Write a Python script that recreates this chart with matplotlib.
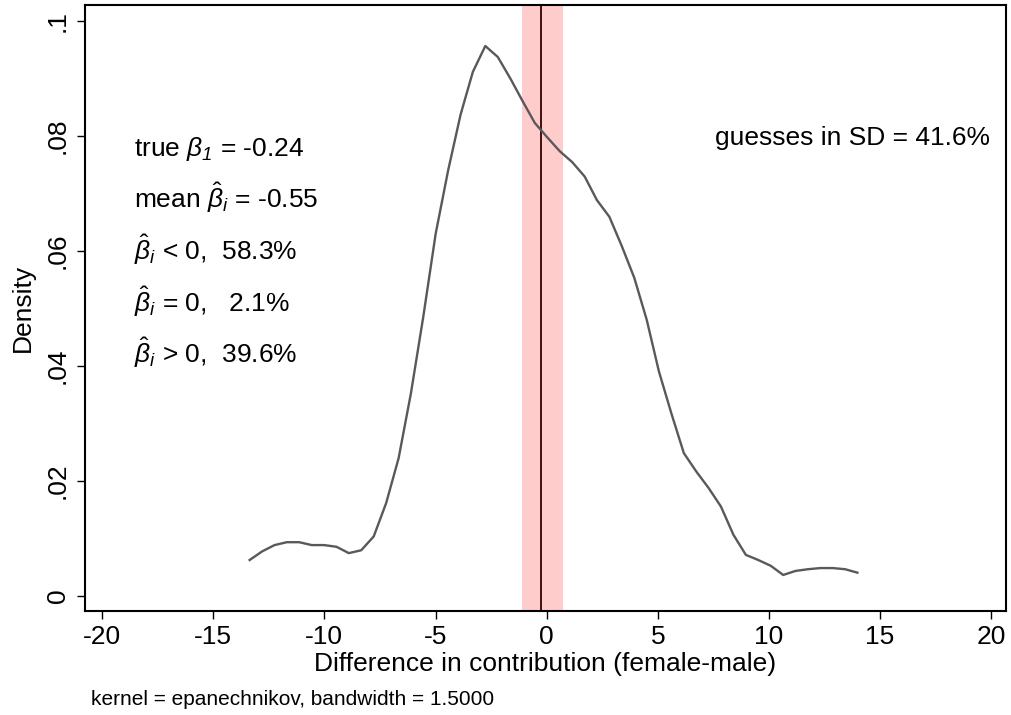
import numpy as np
import matplotlib
matplotlib.use("Agg")
import matplotlib.pyplot as plt

plt.rcParams['font.family'] = ['Liberation Sans', 'DejaVu Sans']
plt.rcParams['mathtext.fontset'] = 'custom'
plt.rcParams['mathtext.rm'] = 'Liberation Sans'
plt.rcParams['mathtext.it'] = 'Liberation Sans:italic'
plt.rcParams['mathtext.sf'] = 'Liberation Sans:italic'
plt.rcParams['axes.unicode_minus'] = False

# kernel density estimate (50 evaluation points)
grid_x = [-13.36, -12.80, -12.24, -11.69, -11.13, -10.57, -10.01, -9.45, -8.90, -8.34,
          -7.78, -7.22, -6.66, -6.11, -5.55, -4.99, -4.43, -3.87, -3.32, -2.76,
          -2.20, -1.64, -1.08, -0.53, 0.03, 0.59, 1.15, 1.71, 2.26, 2.82,
          3.38, 3.94, 4.50, 5.05, 5.61, 6.17, 6.73, 7.29, 7.84, 8.40,
          8.96, 9.52, 10.08, 10.64, 11.19, 11.75, 12.31, 12.87, 13.43, 13.98]
density = [0.0062, 0.0077, 0.0088, 0.0093, 0.0093, 0.0088, 0.0088, 0.0085, 0.0074, 0.0079,
           0.0103, 0.0161, 0.0239, 0.0351, 0.0485, 0.0630, 0.0740, 0.0837, 0.0911, 0.0956,
           0.0937, 0.0900, 0.0860, 0.0822, 0.0797, 0.0773, 0.0754, 0.0729, 0.0688, 0.0659,
           0.0608, 0.0553, 0.0480, 0.0390, 0.0317, 0.0248, 0.0216, 0.0187, 0.0155, 0.0106,
           0.0071, 0.0062, 0.0052, 0.0036, 0.0043, 0.0046, 0.0048, 0.0048, 0.0046, 0.0040]

true_beta = -0.24
sd_band = (-1.13, 0.72)

stats_lines = [r"true $\beta_{\mathsf{1}}$ = -0.24",
               r"mean $\hat{\beta}_i$ = -0.55",
               r"$\hat{\beta}_i$ < 0,  58.3%",
               r"$\hat{\beta}_i$ = 0,   2.1%",
               r"$\hat{\beta}_i$ > 0,  39.6%"]
stats_y = [0.078, 0.069, 0.060, 0.051, 0.042]
sd_text = "guesses in SD = 41.6%"

xticks = [-20, -15, -10, -5, 0, 5, 10, 15, 20]
yticks = [0, 0.02, 0.04, 0.06, 0.08, 0.1]
ytick_labels = ["0", ".02", ".04", ".06", ".08", ".1"]

fig = plt.figure(figsize=(10.11, 7.15), dpi=100)
ax = fig.add_axes([0.084, 0.1455, 0.911, 0.8475])

ax.axvline(true_beta, color="k", lw=1.3, zorder=1)
ax.axvspan(sd_band[0], sd_band[1], color="red", alpha=0.2, lw=0, zorder=2)
ax.plot(grid_x, density, color="#595959", lw=1.7, zorder=3)

ax.set_xlim(-20.77, 20.66)
ax.set_ylim(-0.00266, 0.10273)
ax.set_xticks(xticks)
ax.set_xticklabels([str(t) for t in xticks])
ax.set_yticks(yticks)
ax.set_yticklabels(ytick_labels, rotation=90, va="center")
ax.tick_params(axis="both", direction="out", length=6, width=1, labelsize=19, colors="k")
ax.tick_params(axis="y", pad=5)
ax.tick_params(axis="x", pad=4)
for s in ax.spines.values():
    s.set_linewidth(1.5)

ax.set_xlabel("Difference in contribution (female-male)", fontsize=19, labelpad=2)
ax.set_ylabel("Density", fontsize=19, labelpad=8)

for txt, yy in zip(stats_lines, stats_y):
    ax.text(-18.57, yy - 0.0016, txt, fontsize=19, ha="left", va="baseline")
ax.text(19.95, 0.0800 - 0.0016, sd_text, fontsize=19, ha="right", va="baseline")

fig.text(0.09, 0.014, "kernel = epanechnikov, bandwidth = 1.5000", fontsize=15,
         ha="left", va="baseline")

fig.savefig("out.png", dpi=100)
